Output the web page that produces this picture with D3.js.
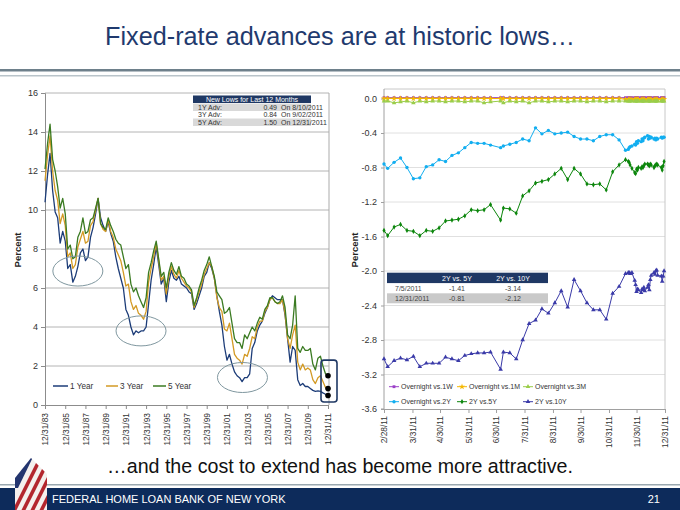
<!DOCTYPE html>
<html><head><meta charset="utf-8">
<script src="https://cdn.jsdelivr.net/npm/d3@7"></script>
<style>body{margin:0;background:#fff}svg{display:block}</style>
</head><body><svg id="c" width="680" height="510"></svg>
<script>
// ---------- DATA ----------
const titleText = "Fixed-rate advances are at historic lows…";
const subtitleText = "…and the cost to extend has become more attractive.";
const footerText = "FEDERAL HOME LOAN BANK OF NEW YORK";
const pageNo = "21";

// Left chart: quarterly readings 1984Q1..2011Q4, plus 12/31/2011
const leftSeriesNames = ["1 Year", "3 Year", "5 Year"];
const rate1Y = [10.4,11.8,12.9,11.0, 9.9,9.6,8.3,8.9, 8.4,7.0,7.2,6.3, 6.6,7.1,7.8,8.0, 7.4,7.6,8.6,9.1,
  9.8,10.6,9.6,9.2, 8.9,9.4,8.8,8.4, 7.6,7.0,6.5,6.0, 4.9,4.6,4.0,3.6, 3.8,3.7,3.8,3.8,
  4.0,5.2,6.4,7.2, 8.1,7.2,6.2,6.5, 5.3,6.3,6.9,6.5, 6.4,6.6,6.2,6.1, 6.0,5.8,5.7,4.9,
  5.2,5.6,6.0,6.6, 6.8,7.3,7.0,6.5, 5.6,4.8,4.1,3.0, 2.3,2.6,2.1,1.7, 1.5,1.4,1.2,1.4,
  1.4,1.6,2.9,3.2, 3.8,4.1,4.3,4.7, 5.0,5.4,5.6,5.5, 5.4,5.4,5.4,4.6, 3.4,2.2,3.0,2.8,
  1.3,1.0,1.1,0.95, 0.95,0.85,0.75,0.7, 0.72,0.7,0.62,0.55, 0.49];
const rate3Y = [11.5,12.8,13.8,12.0, 11.0,10.5,9.3,9.8, 9.2,7.6,7.8,7.0, 7.2,8.1,8.5,8.9, 8.3,8.4,9.2,9.4,
  10.0,10.6,9.3,9.0, 8.9,9.5,8.9,8.6, 8.0,7.7,7.4,6.8, 6.1,6.2,5.3,4.9, 5.1,4.7,4.6,4.4,
  4.8,6.3,7.0,7.6, 8.3,7.4,6.4,6.6, 5.7,6.6,7.1,6.7, 6.5,6.9,6.5,6.3, 6.1,6.0,5.8,5.0,
  5.4,5.8,6.2,6.7, 7.0,7.3,7.1,6.5, 5.5,5.0,4.8,3.9, 3.8,4.2,3.4,2.6, 2.4,2.3,2.1,2.6,
  2.5,2.9,3.5,3.4, 4.0,4.3,4.3,4.8, 5.0,5.4,5.5,5.3, 5.2,5.2,5.4,4.7, 3.4,2.9,3.6,4.1,
  2.2,1.8,2.1,1.8, 1.9,1.8,1.3,1.1, 1.4,1.5,1.2,0.9, 0.84];
const rate5Y = [12.1,13.4,14.4,12.6, 12.0,11.2,10.1,10.6, 9.8,8.0,8.2,7.5, 7.6,8.6,8.9,9.6, 8.8,8.9,9.5,9.6,
  10.1,10.6,9.3,9.1, 9.0,9.6,9.2,8.9, 8.5,8.3,8.2,7.6, 7.0,7.2,6.2,5.8, 6.0,5.6,5.3,5.0,
  5.5,6.8,7.3,7.9, 8.4,7.5,6.6,6.8, 6.0,6.8,7.3,6.9, 6.7,7.1,6.6,6.5, 6.2,6.1,5.9,5.1,
  5.5,6.0,6.4,6.9, 7.2,7.6,7.1,6.6, 5.8,5.6,5.4,4.7, 4.8,5.0,4.2,3.4, 3.2,3.2,2.9,3.6,
  3.4,3.7,4.0,3.8, 4.2,4.5,4.4,4.9, 5.1,5.5,5.5,5.3, 5.2,5.3,5.6,5.0, 3.6,3.4,4.1,5.6,
  2.9,2.7,3.0,2.8, 2.8,2.9,2.1,1.8, 2.4,2.5,2.0,1.6, 1.50];
const leftYTicks = [0,2,4,6,8,10,12,14,16];
const leftXTicks = ["1983-12-31","1985-12-31","1987-12-31","1989-12-31","1991-12-31","1993-12-31","1995-12-31",
  "1997-12-31","1999-12-31","2001-12-31","2003-12-31","2005-12-31","2007-12-31","2009-12-31","2011-12-31"];
const lowsHeader = "New Lows for Last 12 Months";
const lowsLabels = ["1Y Adv:", "3Y Adv:", "5Y Adv:"];
const lowsValues = [0.49, 0.84, 1.50];
const lowsDates = ["8/10/2011", "9/02/2011", "12/31/2011"];
// annotation ellipses around lows (date, value)
const lowCircles = [["1987-04-01", 6.87], ["1993-07-01", 3.8], ["2003-07-15", 1.41]];

// Right chart
const rightDates = ["2011-02-28","2011-03-04","2011-03-11","2011-03-18","2011-03-25","2011-04-01","2011-04-08","2011-04-15",
  "2011-04-22","2011-04-29","2011-05-06","2011-05-13","2011-05-20","2011-05-27","2011-06-03","2011-06-10","2011-06-17",
  "2011-06-24","2011-07-05","2011-07-08","2011-07-15","2011-07-22","2011-07-29","2011-08-05","2011-08-12","2011-08-19",
  "2011-08-26","2011-09-02","2011-09-09","2011-09-16","2011-09-23","2011-09-30","2011-10-07","2011-10-14","2011-10-21",
  "2011-10-28","2011-11-04","2011-11-11",
  "2011-11-18","2011-11-21","2011-11-22","2011-11-23","2011-11-25","2011-11-28","2011-11-29","2011-11-30",
  "2011-12-01","2011-12-02","2011-12-05","2011-12-06","2011-12-07","2011-12-08","2011-12-09","2011-12-12","2011-12-13",
  "2011-12-14","2011-12-15","2011-12-16","2011-12-19","2011-12-20","2011-12-21","2011-12-22","2011-12-23","2011-12-27",
  "2011-12-28","2011-12-29","2011-12-30"];
const ovn1W = [0.01,0.01,0.01,0.01,0.01,0.01,0.01,0.01,0.01,0.01, 0.01,0.01,0.01,0.01,0.01,0.01,0.01,0.01,0.01,0.01,
  0.01,0.01,0.01,0.01,0.01,0.01,0.01,0.01,0.01,0.01, 0.01,0.01,0.01,0.01,0.01,0.01,0.01,0.01,
  0.01,0.01,0.01,0.01,0.01,0.01,0.01,0.01, 0.01,0.01,0.01,0.01,0.01,0.01,0.01,0.01,0.01,0.01,0.01,0.01,0.01,0.01,0.01,0.01,0.01,0.01,0.01,0.01,0.01];
const ovn1M = [0.00,0.00,0.00,0.00,0.00,0.00,0.00,0.00,0.00,0.00, 0.00,0.00,0.00,0.00,0.00,0.00,0.00,0.00,0.00,0.00,
  0.00,0.00,0.00,0.00,0.00,0.00,0.00,0.00,0.00,0.00, 0.00,0.00,0.00,0.00,0.00,0.00,0.00,0.00,
  -0.01,-0.01,-0.01,-0.01,-0.01,-0.01,-0.01,-0.01, -0.01,-0.01,-0.01,-0.01,-0.01,-0.01,-0.01,-0.01,-0.01,-0.01,-0.01,-0.01,-0.01,-0.01,-0.01,-0.01,-0.01,-0.01,-0.01,-0.01,-0.01];
const ovn3M = [-0.03,-0.03,-0.05,-0.04,-0.03,-0.05,-0.03,-0.04,-0.03,-0.03, -0.04,-0.03,-0.03,-0.04,-0.03,-0.03,-0.05,-0.04,-0.03,-0.05,
  -0.03,-0.04,-0.03,-0.05,-0.03,-0.03,-0.04,-0.03,-0.03,-0.04, -0.03,-0.03,-0.04,-0.03,-0.03,-0.04,-0.03,-0.03,
  -0.03,-0.03,-0.03,-0.03,-0.03,-0.03,-0.03,-0.03, -0.03,-0.03,-0.03,-0.03,-0.03,-0.03,-0.03,-0.03,-0.03,-0.03,-0.03,-0.03,-0.03,-0.03,-0.03,-0.03,-0.03,-0.03,-0.03,-0.03,-0.03];
const ovn2Y = [-0.76,-0.81,-0.74,-0.69,-0.80,-0.93,-0.92,-0.79,-0.77,-0.71, -0.73,-0.66,-0.63,-0.57,-0.51,-0.52,-0.52,-0.54,-0.57,-0.55,
  -0.53,-0.51,-0.47,-0.49,-0.34,-0.41,-0.37,-0.41,-0.40,-0.39, -0.44,-0.47,-0.47,-0.49,-0.44,-0.42,-0.42,-0.48,
  -0.60,-0.59,-0.57,-0.56,-0.55,-0.53,-0.54,-0.50, -0.52,-0.49,-0.50,-0.47,-0.49,-0.46,-0.45,-0.43,-0.47,-0.44,-0.46,-0.45,-0.47,-0.46,-0.48,-0.46,-0.47,-0.45,-0.46,-0.45,-0.45];
const y2vs5 = [-1.53,-1.59,-1.49,-1.46,-1.53,-1.54,-1.59,-1.53,-1.54,-1.50, -1.42,-1.41,-1.40,-1.36,-1.29,-1.30,-1.29,-1.23,-1.41,-1.27,
  -1.28,-1.33,-1.13,-1.07,-0.98,-0.96,-0.94,-0.875,-0.81,-0.94, -0.81,-0.875,-0.99,-1.00,-0.99,-1.06,-0.85,-0.77,
  -0.71,-0.73,-0.74,-0.77,-0.81,-0.86,-0.87,-0.82, -0.83,-0.80,-0.81,-0.79,-0.80,-0.78,-0.76,-0.76,-0.77,-0.78,-0.76,-0.77,-0.80,-0.78,-0.77,-0.76,-0.77,-0.80,-0.83,-0.78,-0.73];
const y2vs10 = [-3.02,-3.11,-3.04,-3.01,-3.03,-2.99,-3.11,-3.07,-3.07,-3.07, -3.00,-3.02,-3.04,-2.98,-2.96,-2.95,-2.95,-2.94,-3.14,-2.94,
  -2.95,-3.02,-2.80,-2.61,-2.57,-2.44,-2.49,-2.37,-2.23,-2.42, -2.10,-2.23,-2.37,-2.45,-2.45,-2.56,-2.26,-2.18,
  -2.03,-2.02,-2.02,-2.03,-2.02,-2.11,-2.16,-2.24, -2.21,-2.22,-2.25,-2.21,-2.22,-2.19,-2.23,-2.19,-2.16,-2.22,-2.10,-2.05,-2.02,-2.04,-2.00,-1.99,-2.05,-2.06,-2.12,-2.06,-2.00];
const rightSeriesNames = ["Overnight vs.1W","Overnight vs.1M","Overnight vs.3M","Overnight vs.2Y","2Y vs.5Y","2Y vs.10Y"];
const rightYTicks = [-3.6,-3.2,-2.8,-2.4,-2.0,-1.6,-1.2,-0.8,-0.4,0.0];
const rightXTicks = ["2011-02-28","2011-03-31","2011-04-30","2011-05-31","2011-06-30","2011-07-31","2011-08-31",
  "2011-09-30","2011-10-31","2011-11-30","2011-12-31"];
const spreadHeader = ["", "2Y vs. 5Y", "2Y vs. 10Y"];
const spreadRows = [["7/5/2011", "-1.41", "-3.14"], ["12/31/2011", "-0.81", "-2.12"]];

// ---------- DRAW ----------
const svg = d3.select("#c");
const FONT = "Liberation Sans, Arial, sans-serif";
const parse = d3.timeParse("%Y-%m-%d");
function fitWidth(sel, w) { const l = sel.node().getComputedTextLength(); sel.attr("font-size", (+sel.attr("font-size")) * w / l); }

// header
const t = svg.append("text").attr("x", 340).attr("y", 45).attr("text-anchor", "middle")
  .attr("font-family", FONT).attr("font-size", 22).attr("fill", "#1f3a6e").text(titleText);
fitWidth(t, 470);
svg.append("rect").attr("x", 0).attr("y", 69).attr("width", 680).attr("height", 2.5).attr("fill", "#6e808b");
svg.append("rect").attr("x", 0).attr("y", 75).attr("width", 680).attr("height", 1.5).attr("fill", "#b9c4ca");

// ===== LEFT CHART =====
const xL = d3.scaleTime().domain([parse("1983-12-31"), parse("2011-12-31")]).range([45, 328]);
const yL = d3.scaleLinear().domain([0, 16]).range([405, 93]);
const leftDates = rate1Y.map((d, i) => i < rate1Y.length - 1 ? new Date(1984, i * 3, 1) : parse("2011-12-31"));
const gL = svg.append("g");
gL.selectAll("line.grid").data(leftYTicks.filter(d => d > 0)).join("line")
  .attr("x1", 45).attr("x2", 329).attr("y1", d => yL(d)).attr("y2", d => yL(d))
  .attr("stroke", "#ababab").attr("stroke-width", 0.9);
gL.append("line").attr("x1", 329).attr("x2", 329).attr("y1", 93).attr("y2", 405).attr("stroke", "#ababab");
const axL = gL.append("g").attr("transform", "translate(45,0)")
  .call(d3.axisLeft(yL).tickValues(leftYTicks).tickSize(4).tickPadding(3).tickFormat(d3.format("d")));
const axB = gL.append("g").attr("transform", "translate(0,405)")
  .call(d3.axisBottom(xL).tickValues(leftXTicks.map(parse)).tickSize(4).tickFormat(d3.timeFormat("%m/%d/%y")));
axB.selectAll("text").attr("transform", "rotate(-90)").attr("text-anchor", "end")
  .attr("x", -8).attr("y", 0).attr("dy", "0.35em");
[axL, axB].forEach(a => {
  a.select(".domain").attr("stroke", "#8c8c8c");
  a.selectAll(".tick line").attr("stroke", "#8c8c8c");
  a.selectAll("text").attr("font-family", FONT).attr("font-size", 8.4).attr("fill", "#333");
});
axL.selectAll("text").attr("font-size", 9);
svg.append("text").attr("transform", "translate(21,250) rotate(-90)").attr("text-anchor", "middle")
  .attr("font-family", FONT).attr("font-weight", "bold").attr("font-size", 9.5).attr("fill", "#222").text("Percent");

const leftColors = ["#1c3c78", "#d39a24", "#3b7b22"];
const lineL = d3.line().x((d, i) => xL(leftDates[i])).y(d => yL(d));
[rate1Y, rate3Y, rate5Y].forEach((s, k) => {
  gL.append("path").attr("d", lineL(s)).attr("fill", "none").attr("stroke", leftColors[k])
    .attr("stroke-width", 1.3).attr("stroke-linejoin", "round");
});
// ellipses
gL.selectAll("ellipse").data(lowCircles).join("ellipse")
  .attr("cx", d => xL(parse(d[0]))).attr("cy", d => yL(d[1])).attr("rx", 25).attr("ry", 15)
  .attr("fill", "none").attr("stroke", "#7f979f").attr("stroke-width", 1);
// end points
const endDate = parse("2011-12-31");
gL.append("rect").attr("x", xL(endDate) - 7).attr("y", yL(2.3)).attr("width", 16).attr("height", yL(0.15) - yL(2.3))
  .attr("rx", 3).attr("fill", "none").attr("stroke", "#1f3864").attr("stroke-width", 1.6);
gL.selectAll("circle.end").data(lowsValues).join("circle")
  .attr("cx", xL(endDate)).attr("cy", d => yL(d)).attr("r", 2.8).attr("fill", "#000");
// legend
const legL = [[53, 68, 70], [106, 118, 120], [153, 166, 168]];
leftSeriesNames.forEach((n, k) => {
  gL.append("line").attr("x1", legL[k][0]).attr("x2", legL[k][1]).attr("y1", 386).attr("y2", 386)
    .attr("stroke", leftColors[k]).attr("stroke-width", 1.5);
  gL.append("text").attr("x", legL[k][2]).attr("y", 389).attr("font-family", FONT).attr("font-size", 8.2)
    .attr("fill", "#333").text(n);
});
// lows table
const tb = gL.append("g");
tb.append("rect").attr("x", 193).attr("y", 95.5).attr("width", 118).attr("height", 7.5).attr("fill", "#1f3864");
tb.append("text").attr("x", 252).attr("y", 101.7).attr("text-anchor", "middle").attr("font-family", FONT)
  .attr("font-size", 7).attr("fill", "#fff").text(lowsHeader);
lowsLabels.forEach((l, i) => {
  const y0 = 103.5 + i * 7.5;
  if (i !== 1) tb.append("rect").attr("x", 193).attr("y", y0).attr("width", 118).attr("height", 7.5).attr("fill", "#d9d9d9");
  tb.append("text").attr("x", 198).attr("y", y0 + 6).attr("font-family", FONT).attr("font-size", 7).attr("fill", "#333").text(l);
  tb.append("text").attr("x", 277).attr("y", y0 + 6).attr("text-anchor", "end").attr("font-family", FONT).attr("font-size", 7).attr("fill", "#333").text(lowsValues[i].toFixed(2));
  tb.append("text").attr("x", 281).attr("y", y0 + 6).attr("font-family", FONT).attr("font-size", 7).attr("fill", "#333").text("On " + lowsDates[i]);
});

// ===== RIGHT CHART =====
const xR = d3.scaleTime().domain([parse("2011-02-28"), parse("2011-12-31")]).range([384, 665]);
const yR = d3.scaleLinear().domain([-3.6, 0]).range([409, 98.5]);
const gR = svg.append("g");
gR.selectAll("line.grid").data(rightYTicks.filter(d => d > -3.6)).join("line")
  .attr("x1", 384).attr("x2", 665).attr("y1", d => yR(d)).attr("y2", d => yR(d))
  .attr("stroke", "#dcdcdc").attr("stroke-width", 0.9);
gR.append("line").attr("x1", 384).attr("x2", 665).attr("y1", 89).attr("y2", 89).attr("stroke", "#c8c8c8");
gR.append("line").attr("x1", 665).attr("x2", 665).attr("y1", 89).attr("y2", 409).attr("stroke", "#c8c8c8");
const axRL = gR.append("g").attr("transform", "translate(384,0)")
  .call(d3.axisLeft(yR).tickValues(rightYTicks).tickSize(3).tickPadding(4).tickFormat(d => d.toFixed(1)));
axRL.select(".domain").attr("d", "M-3,409H0V89");
const axRB = gR.append("g").attr("transform", "translate(0,409)")
  .call(d3.axisBottom(xR).tickValues(rightXTicks.map(parse)).tickSize(4).tickFormat(d3.timeFormat("%-m/%-d/%y")));
axRB.selectAll("text").attr("transform", "rotate(-90)").attr("text-anchor", "end")
  .attr("x", -7).attr("y", 0).attr("dy", "0.35em");
[axRL, axRB].forEach(a => {
  a.select(".domain").attr("stroke", "#a0a0a0").attr("fill", "none");
  a.selectAll(".tick line").attr("stroke", "#a0a0a0");
  a.selectAll("text").attr("font-family", FONT).attr("font-size", 8.4).attr("fill", "#333");
});
axRL.selectAll("text").attr("font-size", 9);
svg.append("text").attr("transform", "translate(358,250) rotate(-90)").attr("text-anchor", "middle")
  .attr("font-family", FONT).attr("font-weight", "bold").attr("font-size", 9.5).attr("fill", "#222").text("Percent");

const rDates = rightDates.map(parse);
const rightSeries = [ovn1W, ovn1M, ovn3M, ovn2Y, y2vs5, y2vs10];
const rightColors = ["#9b3fc8", "#f5b800", "#9acd4a", "#12aef0", "#0c860c", "#3a3aa8"];
const rightSymbols = [d3.symbolSquare, d3.symbolStar, d3.symbolTriangle, d3.symbolCircle, d3.symbolDiamond, d3.symbolTriangle];
const rightSymSize = [8, 12, 9, 9, 8, 9];
const lineR = d3.line().x((d, i) => xR(rDates[i])).y(d => yR(d));
rightSeries.forEach((s, k) => {
  const g = gR.append("g");
  g.append("path").attr("d", lineR(s)).attr("fill", "none").attr("stroke", rightColors[k]).attr("stroke-width", 1);
  g.selectAll("path.m").data(s).join("path").attr("class", "m")
    .attr("transform", (d, i) => `translate(${xR(rDates[i])},${yR(d)})`)
    .attr("d", d3.symbol().type(rightSymbols[k]).size(rightSymSize[k])).attr("fill", rightColors[k]);
});
// legend
const legPos = [[389, 386.7], [457, 386.7], [523, 386.7], [389, 401.7], [457, 401.7], [523, 401.7]];
rightSeriesNames.forEach((n, k) => {
  const [lx, ly] = legPos[k];
  gR.append("line").attr("x1", lx).attr("x2", lx + 10).attr("y1", ly).attr("y2", ly).attr("stroke", rightColors[k]).attr("stroke-width", 1);
  gR.append("path").attr("transform", `translate(${lx + 5},${ly})`).attr("d", d3.symbol().type(rightSymbols[k]).size(rightSymSize[k])).attr("fill", rightColors[k]);
  gR.append("text").attr("x", lx + 12).attr("y", ly + 2.5).attr("font-family", FONT).attr("font-size", 7).attr("fill", "#333").text(n);
});
// spread table
const st = gR.append("g");
st.append("rect").attr("x", 387).attr("y", 272.7).attr("width", 161).attr("height", 10.6).attr("fill", "#1f3864");
const colX = [395, 457, 513];
spreadHeader.forEach((h, j) => {
  if (h) st.append("text").attr("x", colX[j]).attr("y", 280.5).attr("text-anchor", "middle").attr("font-family", FONT)
    .attr("font-size", 7).attr("fill", "#fff").text(h);
});
spreadRows.forEach((r, i) => {
  const y0 = 283.3 + i * 10;
  st.append("rect").attr("x", 387).attr("y", y0).attr("width", 161).attr("height", 10).attr("fill", i === 1 ? "#c9c9c9" : "#fff");
  r.forEach((c, j) => st.append("text").attr("x", colX[j]).attr("y", y0 + 7.5).attr("text-anchor", j === 0 ? "start" : "middle")
    .attr("font-family", FONT).attr("font-size", 7).attr("fill", "#444").text(c));
});

// subtitle
const st2 = svg.append("text").attr("x", 340).attr("y", 473).attr("text-anchor", "middle")
  .attr("font-family", FONT).attr("font-size", 20).attr("fill", "#111").text(subtitleText);
fitWidth(st2, 466);

// footer
svg.append("rect").attr("x", 0).attr("y", 484).attr("width", 680).attr("height", 1.5).attr("fill", "#9aa8b0");
svg.append("rect").attr("x", 0).attr("y", 488).attr("width", 680).attr("height", 22).attr("fill", "#0d2b5b");
svg.append("text").attr("x", 52).attr("y", 503).attr("font-family", FONT).attr("font-size", 11).attr("fill", "#fff").text(footerText);
svg.append("text").attr("x", 660).attr("y", 503).attr("text-anchor", "end").attr("font-family", FONT).attr("font-size", 11).attr("fill", "#fff").text(pageNo);
// logo (flag house)
const logo = svg.append("g");
const house = "M15,478 L31,458 L47,474 L47,510 L15,510 Z";
logo.append("clipPath").attr("id", "hc").append("path").attr("d", house);
const lg = logo.append("g").attr("clip-path", "url(#hc)");
lg.append("rect").attr("x", 10).attr("y", 455).attr("width", 45).attr("height", 60).attr("fill", "#f4f0ee");
d3.range(6).forEach(i => lg.append("path").attr("d", `M${10 + i * 9},515 L${40 + i * 9},455 L${44 + i * 9},455 L${14 + i * 9},515 Z`).attr("fill", "#b3262e"));
lg.append("path").attr("d", "M10,455 L34,455 L18,488 L10,488 Z").attr("fill", "#23356f");
</script></body></html>
